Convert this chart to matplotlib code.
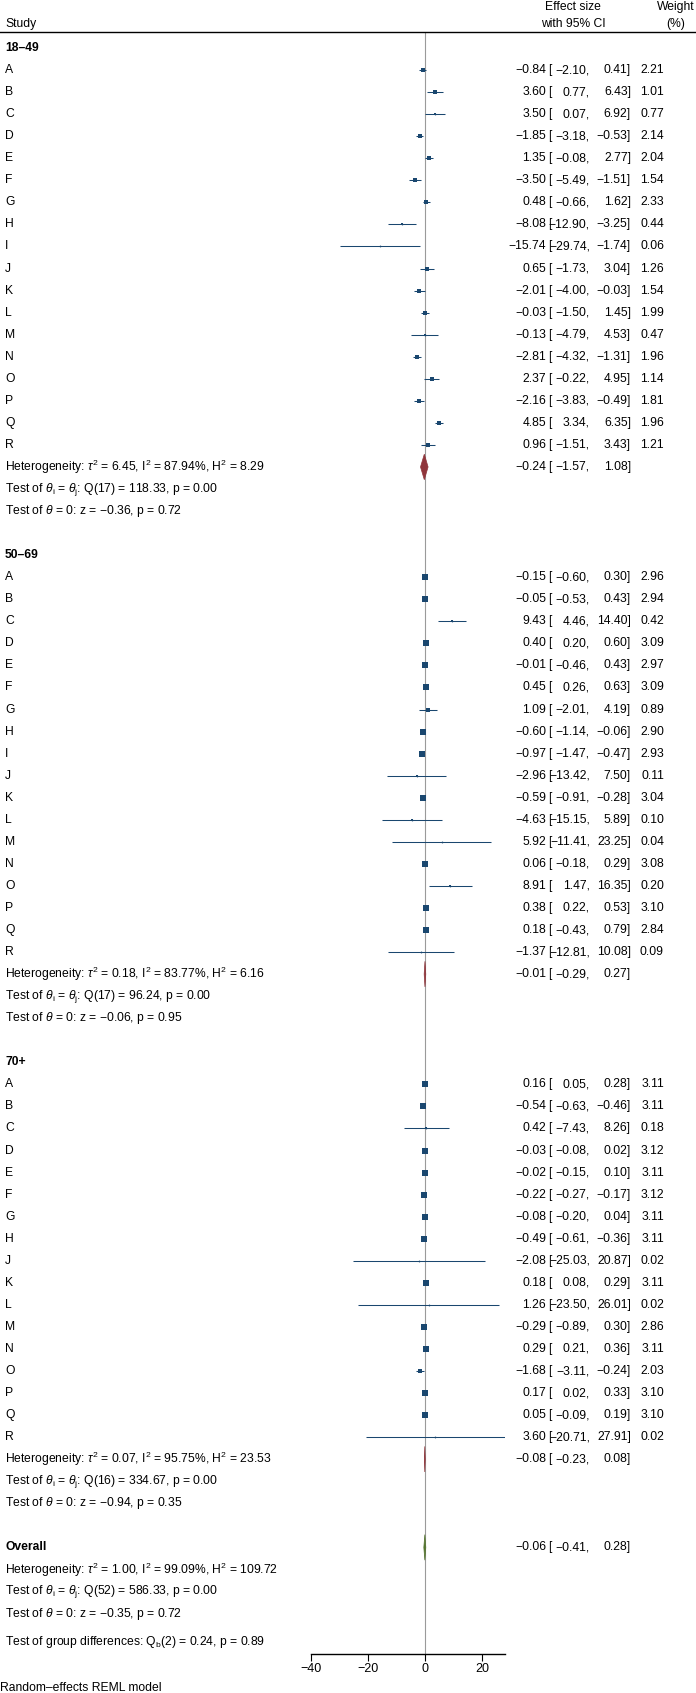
import numpy as np
import matplotlib
matplotlib.use("Agg")
import matplotlib.pyplot as plt
from matplotlib import transforms
from matplotlib.patches import Polygon

plt.rcParams['font.family'] = ['Liberation Sans', 'DejaVu Sans']
plt.rcParams['mathtext.fontset'] = 'custom'
plt.rcParams['mathtext.rm'] = 'Liberation Sans'
plt.rcParams['mathtext.it'] = 'Liberation Sans:italic'
plt.rcParams['mathtext.bf'] = 'Liberation Sans:bold'

# ---------------- data ----------------
studies_1 = list("ABCDEFGHIJKLMNOPQR")
es_1 = [-0.84, 3.60, 3.50, -1.85, 1.35, -3.50, 0.48, -8.08, -15.74, 0.65, -2.01, -0.03, -0.13, -2.81, 2.37, -2.16, 4.85, 0.96]
lo_1 = [-2.10, 0.77, 0.07, -3.18, -0.08, -5.49, -0.66, -12.90, -29.74, -1.73, -4.00, -1.50, -4.79, -4.32, -0.22, -3.83, 3.34, -1.51]
hi_1 = [0.41, 6.43, 6.92, -0.53, 2.77, -1.51, 1.62, -3.25, -1.74, 3.04, -0.03, 1.45, 4.53, -1.31, 4.95, -0.49, 6.35, 3.43]
wt_1 = [2.21, 1.01, 0.77, 2.14, 2.04, 1.54, 2.33, 0.44, 0.06, 1.26, 1.54, 1.99, 0.47, 1.96, 1.14, 1.81, 1.96, 1.21]
pool_1 = [-0.24, -1.57, 1.08]

studies_2 = list("ABCDEFGHIJKLMNOPQR")
es_2 = [-0.15, -0.05, 9.43, 0.40, -0.01, 0.45, 1.09, -0.60, -0.97, -2.96, -0.59, -4.63, 5.92, 0.06, 8.91, 0.38, 0.18, -1.37]
lo_2 = [-0.60, -0.53, 4.46, 0.20, -0.46, 0.26, -2.01, -1.14, -1.47, -13.42, -0.91, -15.15, -11.41, -0.18, 1.47, 0.22, -0.43, -12.81]
hi_2 = [0.30, 0.43, 14.40, 0.60, 0.43, 0.63, 4.19, -0.06, -0.47, 7.50, -0.28, 5.89, 23.25, 0.29, 16.35, 0.53, 0.79, 10.08]
wt_2 = [2.96, 2.94, 0.42, 3.09, 2.97, 3.09, 0.89, 2.90, 2.93, 0.11, 3.04, 0.10, 0.04, 3.08, 0.20, 3.10, 2.84, 0.09]
pool_2 = [-0.01, -0.29, 0.27]

studies_3 = list("ABCDEFGHJKLMNOPQR")
es_3 = [0.16, -0.54, 0.42, -0.03, -0.02, -0.22, -0.08, -0.49, -2.08, 0.18, 1.26, -0.29, 0.29, -1.68, 0.17, 0.05, 3.60]
lo_3 = [0.05, -0.63, -7.43, -0.08, -0.15, -0.27, -0.20, -0.61, -25.03, 0.08, -23.50, -0.89, 0.21, -3.11, 0.02, -0.09, -20.71]
hi_3 = [0.28, -0.46, 8.26, 0.02, 0.10, -0.17, 0.04, -0.36, 20.87, 0.29, 26.01, 0.30, 0.36, -0.24, 0.33, 0.19, 27.91]
wt_3 = [3.11, 3.11, 0.18, 3.12, 3.11, 3.12, 3.11, 3.11, 0.02, 3.11, 0.02, 2.86, 3.11, 2.03, 3.10, 3.10, 0.02]
pool_3 = [-0.08, -0.23, 0.08]

pool_all = [-0.06, -0.41, 0.28]

group_names = ["18\u201349", "50\u201369", "70+"]
het_txt = [
    [r"Heterogeneity: $\tau^2$ = 6.45, I$^2$ = 87.94%, H$^2$ = 8.29",
     r"Test of $\theta_{\rm i}$ = $\theta_{\rm j}$: Q(17) = 118.33, p = 0.00",
     r"Test of $\theta$ = 0: z = $-$0.36, p = 0.72"],
    [r"Heterogeneity: $\tau^2$ = 0.18, I$^2$ = 83.77%, H$^2$ = 6.16",
     r"Test of $\theta_{\rm i}$ = $\theta_{\rm j}$: Q(17) = 96.24, p = 0.00",
     r"Test of $\theta$ = 0: z = $-$0.06, p = 0.95"],
    [r"Heterogeneity: $\tau^2$ = 0.07, I$^2$ = 95.75%, H$^2$ = 23.53",
     r"Test of $\theta_{\rm i}$ = $\theta_{\rm j}$: Q(16) = 334.67, p = 0.00",
     r"Test of $\theta$ = 0: z = $-$0.94, p = 0.35"],
]
overall_txt = [r"Heterogeneity: $\tau^2$ = 1.00, I$^2$ = 99.09%, H$^2$ = 109.72",
               r"Test of $\theta_{\rm i}$ = $\theta_{\rm j}$: Q(52) = 586.33, p = 0.00",
               r"Test of $\theta$ = 0: z = $-$0.35, p = 0.72"]
group_diff_txt = r"Test of group differences: Q$_{\rm b}$(2) = 0.24, p = 0.89"

groups = [
    (studies_1, es_1, lo_1, hi_1, wt_1, pool_1),
    (studies_2, es_2, lo_2, hi_2, wt_2, pool_2),
    (studies_3, es_3, lo_3, hi_3, wt_3, pool_3),
]

# ---------------- layout ----------------
W, H = 696, 1693
fig = plt.figure(figsize=(W / 100, H / 100), dpi=100)

row0_px = 48.0      # y of first row (group label)
row_px = 22.05      # row spacing
top_px = 32.0       # header rule
axis_px = 1654.0    # x axis line
x0_px = 425.0       # x of zero
ppu = 2.86          # px per unit
xmin, xmax = -40, 27.91

left = (x0_px + xmin * ppu) / W
right = (x0_px + xmax * ppu) / W
ax = fig.add_axes([left, 1 - axis_px / H, right - left, (axis_px - top_px) / H])
ax.set_xlim(xmin, xmax)
ax.set_ylim((axis_px - row0_px) / row_px, (top_px - row0_px) / row_px)
ax.patch.set_alpha(0)
for s in ['top', 'right', 'left']:
    ax.spines[s].set_visible(False)
ax.spines['bottom'].set_linewidth(1.0)
ax.set_yticks([])
ax.set_xticks([-40, -20, 0, 20])
ax.tick_params(axis='x', length=5, width=0.8, labelsize=9, pad=1.5)
ax.axvline(0, color='#9a9a9a', lw=0.8, zorder=0)

tr = transforms.blended_transform_factory(fig.transFigure, ax.transData)
FS = 8.7
NAVY = '#1a476f'


def fmt(v):
    return f"{v:.2f}".replace('-', '\u2212')


def put(px, r, s, **kw):
    kw.setdefault('fontsize', FS)
    kw.setdefault('va', 'center')
    ax.text(px / W, r, s, transform=tr, clip_on=False, **kw)


def ci_text(r, es, lo, hi, wt=None):
    put(546, r, fmt(es), ha='right')
    put(548, r, "[", ha='left')
    put(590, r, fmt(lo) + ",", ha='right')
    put(631, r, fmt(hi) + "]", ha='right')
    if wt is not None:
        put(664, r, f"{wt:.2f}", ha='right')


def diamond(r, es, lo, hi, color):
    h = 0.58
    ax.add_patch(Polygon([(lo, r), (es, r - h), (hi, r), (es, r + h)],
                         closed=True, facecolor=color, edgecolor=color, lw=0.5))


# header
put(5, -1.1, "Study", ha='left')
put(573, -1.85, "Effect size", ha='center')
put(573, -1.1, "with 95% CI", ha='center')
put(676, -1.85, "Weight", ha='center')
put(676, -1.1, "(%)", ha='center')
fig.add_artist(plt.Line2D([0, 1], [1 - top_px / H] * 2, color='black', lw=1.0))

r = 0
for gi, (names, es, lo, hi, wt, pool) in enumerate(groups):
    put(5, r, group_names[gi], ha='left', fontweight='bold')
    r += 1
    for k in range(len(names)):
        put(5, r, names[k], ha='left')
        ax.plot([lo[k], hi[k]], [r, r], color=NAVY, lw=0.75, solid_capstyle='butt', zorder=2)
        side = 2.3 * np.sqrt(wt[k])  # pt
        ax.scatter([es[k]], [r], s=side ** 2, marker='s', color=NAVY, linewidths=0, zorder=3)
        ax.plot([es[k]], [r], marker='o', ms=1.3, color=NAVY, mew=0, zorder=4)
        ci_text(r, es[k], lo[k], hi[k], wt[k])
        r += 1
    diamond(r, pool[0], pool[1], pool[2], '#90353b')
    ci_text(r, *pool)
    for t in het_txt[gi]:
        put(5, r, t, ha='left')
        r += 1
    r += 1

put(5, r, "Overall", ha='left', fontweight='bold')
diamond(r, pool_all[0], pool_all[1], pool_all[2], '#55752f')
ci_text(r, *pool_all)
r += 1
for t in overall_txt:
    put(5, r, t, ha='left')
    r += 1
put(5, r + 0.3, group_diff_txt, ha='left')

fig.text(0, 1 - 1688 / H, "Random\u2013effects REML model", fontsize=FS, ha='left', va='center')

fig.savefig("out.png", dpi=100)
